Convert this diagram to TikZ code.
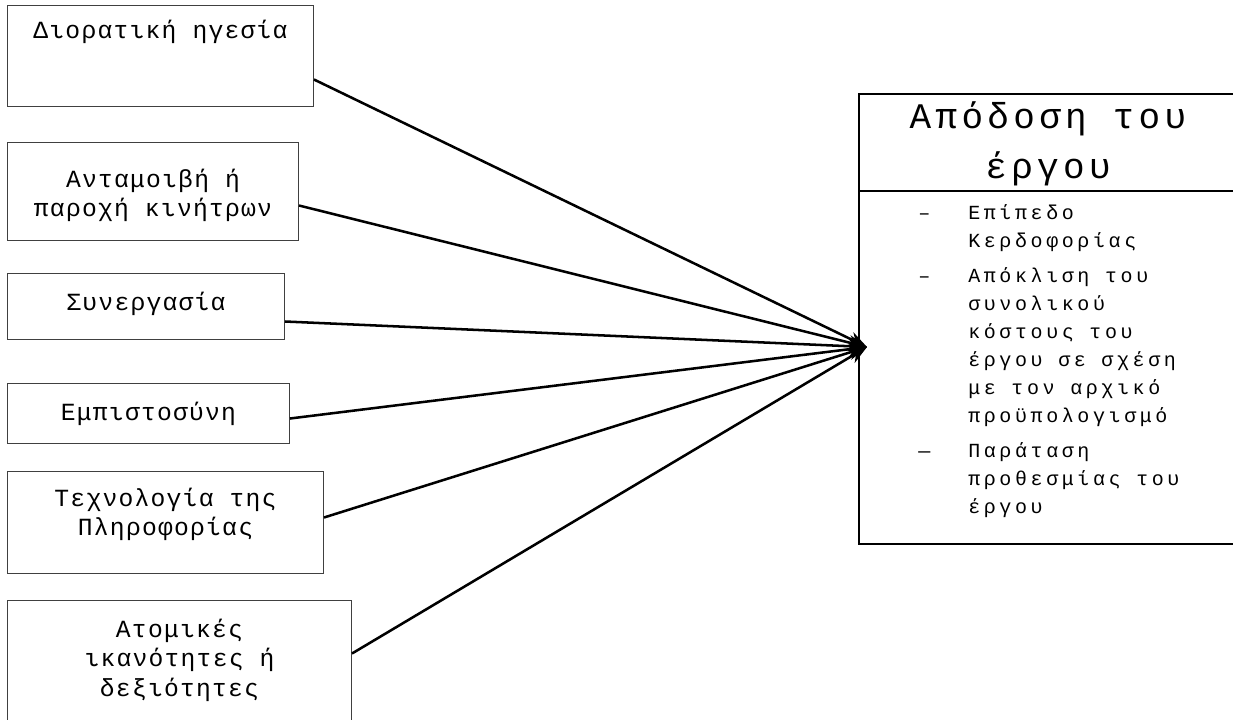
\documentclass[tikz,border=0pt]{standalone}
\usepackage{fontspec}
\usetikzlibrary{positioning,arrows.meta}

\newfontfamily\leftmono[LetterSpace=5]{Liberation Mono}
\newfontfamily\listmono[LetterSpace=18]{Liberation Mono}
\newfontfamily\titlemono[LetterSpace=12]{Liberation Mono}
\newcommand{\factorfont}{\fontsize{18.5}{22}\selectfont\leftmono}
\newcommand{\listfont}{\fontsize{15}{21}\selectfont\listmono}
\newcommand{\titlefont}{\fontsize{27}{37.5}\selectfont\titlemono}

\newdimen\pxu
\pxu=0.75pt

\tikzset{
    factor/.style={draw=black!75, line width=0.75pt, anchor=north west, inner sep=0pt},
    factortext/.style={anchor=north, inner sep=0pt, align=center, font=\factorfont},
    link/.style={line width=1.9pt, -{Stealth[length=14pt,width=11pt]}}
}

\begin{document}
\begin{tikzpicture}[x=0.75pt, y=-0.75pt]
            \useasboundingbox (0,0) rectangle (1233,719);
            \clip (0,0) rectangle (1233,719);

            % factors on the left
            \node[factor, minimum width=306*\pxu, minimum height=101*\pxu] (b1) at (7,5) {};
            \node[factor, minimum width=291*\pxu, minimum height=98*\pxu] (b2) at (7,142) {};
            \node[factor, minimum width=277*\pxu, minimum height=66*\pxu] (b3) at (7,273) {};
            \node[factor, minimum width=282*\pxu, minimum height=60*\pxu] (b4) at (7,383) {};
            \node[factor, minimum width=316*\pxu, minimum height=102*\pxu] (b5) at (7,471) {};
            \node[factor, minimum width=344*\pxu, minimum height=140*\pxu] (b6) at (7,600) {};

            \node[factortext] (t1) at ([yshift=-15*\pxu]b1.north) {Διορατική ηγεσία};
            \node[factortext] (t2) at ([yshift=-27*\pxu]b2.north) {Ανταμοιβή ή\\παροχή κινήτρων};
            \node[factortext] (t3) at ([yshift=-19*\pxu]b3.north) {Συνεργασία};
            \node[factortext] (t4) at ([yshift=-19*\pxu]b4.north) {Εμπιστοσύνη};
            \node[factortext] (t5) at ([yshift=-17*\pxu]b5.north) {Τεχνολογία της\\Πληροφορίας};
            \node[factortext] (t6) at ([yshift=-19*\pxu]b6.north) {Ατομικές\\ικανότητες ή\\δεξιότητες};

            % project performance
            \node[draw, line width=1.5pt, anchor=north west, inner sep=0pt,
                  minimum width=382*\pxu, minimum height=450*\pxu] (perf) at (858,93) {};
            \draw[line width=1.5pt] ([yshift=-98*\pxu]perf.north west) -- ([yshift=-98*\pxu]perf.north east);
            \node[anchor=north, inner sep=0pt, align=center, font=\titlefont] (ttl)
                at ([xshift=-2*\pxu, yshift=-8*\pxu]perf.north) {Απόδοση του\\έργου};
            \node[anchor=north west, inner sep=0pt, font=\listfont] (items) at (918,200) {%
                \begin{tabular}{@{}p{50\pxu}@{}l@{}}
                –  & Επίπεδο\\
                   & Κερδοφορίας\\[7\pxu]
                –  & Απόκλιση του\\
                   & συνολικού\\
                   & κόστους του\\
                   & έργου σε σχέση\\
                   & με τον αρχικό\\
                   & προϋπολογισμό\\[7\pxu]
                —  & Παράταση\\
                   & προθεσμίας του\\
                   & έργου
                \end{tabular}};

            \coordinate (tip) at (867,347);

            \draw[link] ([yshift=-23.5*\pxu]b1.east) -- (tip);
            \draw[link] ([yshift=-14*\pxu]b2.east) -- (tip);
            \draw[link] ([yshift=-15*\pxu]b3.east) -- (tip);
            \draw[link] ([yshift=-5*\pxu]b4.east) -- (tip);
            \draw[link] ([yshift=5*\pxu]b5.east) -- (tip);
            \draw[link] ([yshift=17*\pxu]b6.east) -- (tip);
\end{tikzpicture}
\end{document}
